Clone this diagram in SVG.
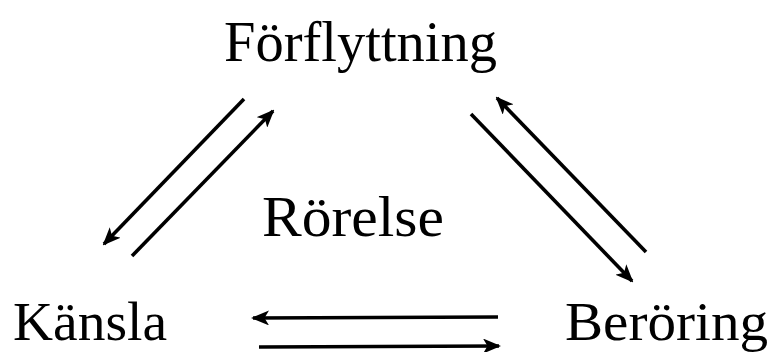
<svg xmlns="http://www.w3.org/2000/svg" width="769" height="352" viewBox="0 0 769 352">
  <style>
    .label { font-family: "Liberation Serif", "Times New Roman", serif; font-size: 56px; fill: #000; }
    .low { font-size: 54px; }
    .conn { stroke: #000; stroke-width: 3.6; fill: none; marker-end: url(#head); }
  </style>
  <defs>
    <marker id="head" viewBox="0 0 18 15" refX="16" refY="7.5" markerWidth="18" markerHeight="15" markerUnits="userSpaceOnUse" orient="auto">
      <path d="M0,0 L18,7.5 L0,15 L4.5,7.5 Z" fill="#000"/>
    </marker>
  </defs>
  <rect width="769" height="352" fill="#fff"/>

  <g id="node-forflyttning">
    <text class="label" x="224" y="61" textLength="273" lengthAdjust="spacingAndGlyphs">Förflyttning</text>
  </g>
  <g id="node-rorelse">
    <text class="label" x="262" y="236" textLength="182" lengthAdjust="spacingAndGlyphs">Rörelse</text>
  </g>
  <g id="node-kansla">
    <text class="label low" x="13" y="340" textLength="154" lengthAdjust="spacingAndGlyphs">Känsla</text>
  </g>
  <g id="node-beroring">
    <text class="label low" x="565" y="340" textLength="203" lengthAdjust="spacingAndGlyphs">Beröring</text>
  </g>

  <g id="connectors">
    <line class="conn" x1="244" y1="99" x2="104" y2="244"/>
    <line class="conn" x1="132" y1="256" x2="273" y2="111"/>
    <line class="conn" x1="471" y1="114" x2="632" y2="281"/>
    <line class="conn" x1="646" y1="252" x2="497" y2="98"/>
    <line class="conn" x1="498" y1="317" x2="253" y2="318"/>
    <line class="conn" x1="259" y1="347" x2="499" y2="346"/>
  </g>
</svg>
